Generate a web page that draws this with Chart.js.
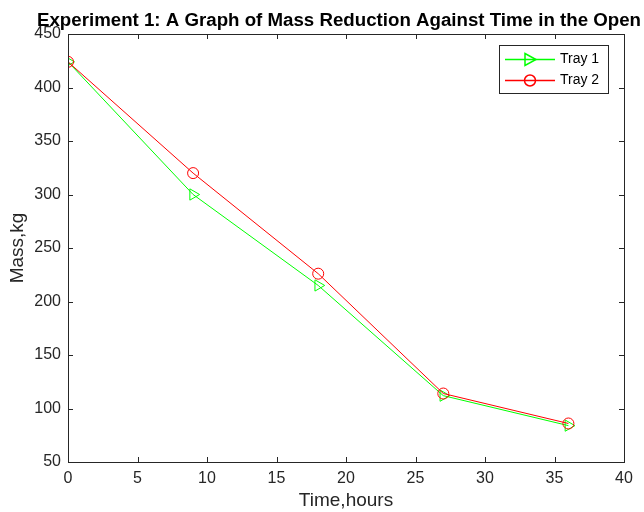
<!DOCTYPE html>
<html>
<head>
<meta charset="utf-8">
<script src="https://cdn.jsdelivr.net/npm/chart.js@4"></script>
<style>
  html, body { margin: 0; padding: 0; background: #fff; }
  #wrap { width: 644px; height: 512px; }
</style>
</head>
<body>
<div id="wrap"><canvas id="massChart" width="644" height="512"></canvas></div>
<script>
const timeHours = [0, 9, 18, 27, 36];
const tray1Mass = [424, 300, 215, 112, 84];
const tray2Mass = [424, 320, 226, 114, 86];
const xTicks = [0, 5, 10, 15, 20, 25, 30, 35, 40];
const yTicks = [50, 100, 150, 200, 250, 300, 350, 400, 450];
const seriesNames = ['Tray 1', 'Tray 2'];
const seriesColors = ['#00ff00', '#ff0000'];

const axisColor = '#262626';
const font = 'Liberation Sans, Arial, sans-serif';

function toPoints(xs, ys) {
  return xs.map((x, i) => ({ x: x, y: ys[i] }));
}

// box around plot with inward ticks, like matlab
const boxPlugin = {
  id: 'box',
  afterDraw(chart) {
    const c = chart.ctx;
    const a = chart.chartArea;
    const xs = chart.scales.x, ys = chart.scales.y;
    c.save();
    c.strokeStyle = axisColor;
    c.lineWidth = 1;
    c.strokeRect(Math.round(a.left) + 0.5, Math.round(a.top) + 0.5,
      Math.round(a.right - a.left), Math.round(a.bottom - a.top));
    c.beginPath();
    xTicks.forEach(v => {
      const px = Math.round(xs.getPixelForValue(v)) + 0.5;
      c.moveTo(px, a.bottom); c.lineTo(px, a.bottom - 5);
      c.moveTo(px, a.top); c.lineTo(px, a.top + 5);
    });
    yTicks.forEach(v => {
      const py = Math.round(ys.getPixelForValue(v)) + 0.5;
      c.moveTo(a.left, py); c.lineTo(a.left + 5, py);
      c.moveTo(a.right, py); c.lineTo(a.right - 5, py);
    });
    c.stroke();

    // title
    c.fillStyle = '#000';
    c.font = 'bold 18.7px ' + font;
    c.textBaseline = 'alphabetic';
    c.textAlign = 'left';
    c.fillText('Experiment 1: A Graph of Mass Reduction Against Time in the Open', 37, 26);

    // legend
    const lx = 499, ly = 45, lw = 109, lh = 48;
    c.fillStyle = '#fff';
    c.fillRect(lx, ly, lw, lh);
    c.strokeStyle = axisColor;
    c.strokeRect(lx + 0.5, ly + 0.5, lw, lh);
    c.font = '14px ' + font;
    c.textBaseline = 'middle';
    seriesNames.forEach((name, i) => {
      const y = ly + 14 + i * 21 + 0.5;
      c.strokeStyle = seriesColors[i];
      c.lineWidth = 1.5;
      c.beginPath();
      c.moveTo(lx + 6, y); c.lineTo(lx + 56, y);
      c.stroke();
      c.beginPath();
      if (i === 1) {
        c.arc(lx + 31, y, 5.5, 0, Math.PI * 2);
      } else {
        c.moveTo(lx + 26, y - 6); c.lineTo(lx + 37, y); c.lineTo(lx + 26, y + 6); c.closePath();
      }
      c.stroke();
      c.fillStyle = '#000';
      c.fillText(name, lx + 61, y);
    });
    c.restore();
  }
};

const ctx = document.getElementById('massChart').getContext('2d');
new Chart(ctx, {
  type: 'line',
  data: {
    datasets: [{
      label: seriesNames[0],
      data: toPoints(timeHours, tray1Mass),
      borderColor: seriesColors[0],
      borderWidth: 1,
      pointStyle: 'triangle',
      pointRotation: 90,
      pointRadius: 6.5,
      pointBorderWidth: 1,
      pointBackgroundColor: 'rgba(0,0,0,0)',
      pointBorderColor: seriesColors[0],
      order: 2
    }, {
      label: seriesNames[1],
      data: toPoints(timeHours, tray2Mass),
      borderColor: seriesColors[1],
      borderWidth: 1,
      pointStyle: 'circle',
      pointRadius: 5.5,
      pointBorderWidth: 1,
      pointBackgroundColor: 'rgba(0,0,0,0)',
      pointBorderColor: seriesColors[1],
      order: 1
    }]
  },
  options: {
    responsive: false,
    animation: false,
    layout: { padding: { top: 34, right: 20, left: 0, bottom: 0 } },
    plugins: { legend: { display: false }, title: { display: false }, tooltip: { enabled: false } },
    scales: {
      x: {
        type: 'linear', min: 0, max: 40,
        afterFit(s) { s.height = 50; },
        afterBuildTicks(s) { s.ticks = xTicks.map(v => ({ value: v })); },
        grid: { drawOnChartArea: false, drawTicks: false },
        border: { display: false },
        ticks: { color: axisColor, padding: 7, font: { family: font, size: 16 }, maxRotation: 0 },
        title: { display: true, text: 'Time,hours', color: axisColor, padding: 0, font: { family: font, size: 19 } }
      },
      y: {
        type: 'linear', min: 50, max: 450,
        afterFit(s) { s.width = 68; },
        afterBuildTicks(s) { s.ticks = yTicks.map(v => ({ value: v })); },
        grid: { drawOnChartArea: false, drawTicks: false },
        border: { display: false },
        ticks: { color: axisColor, padding: 7, font: { family: font, size: 16 } },
        title: { display: true, text: 'Mass,kg', color: axisColor, padding: 6, font: { family: font, size: 19 } }
      }
    }
  },
  plugins: [boxPlugin]
});
</script>
</body>
</html>
